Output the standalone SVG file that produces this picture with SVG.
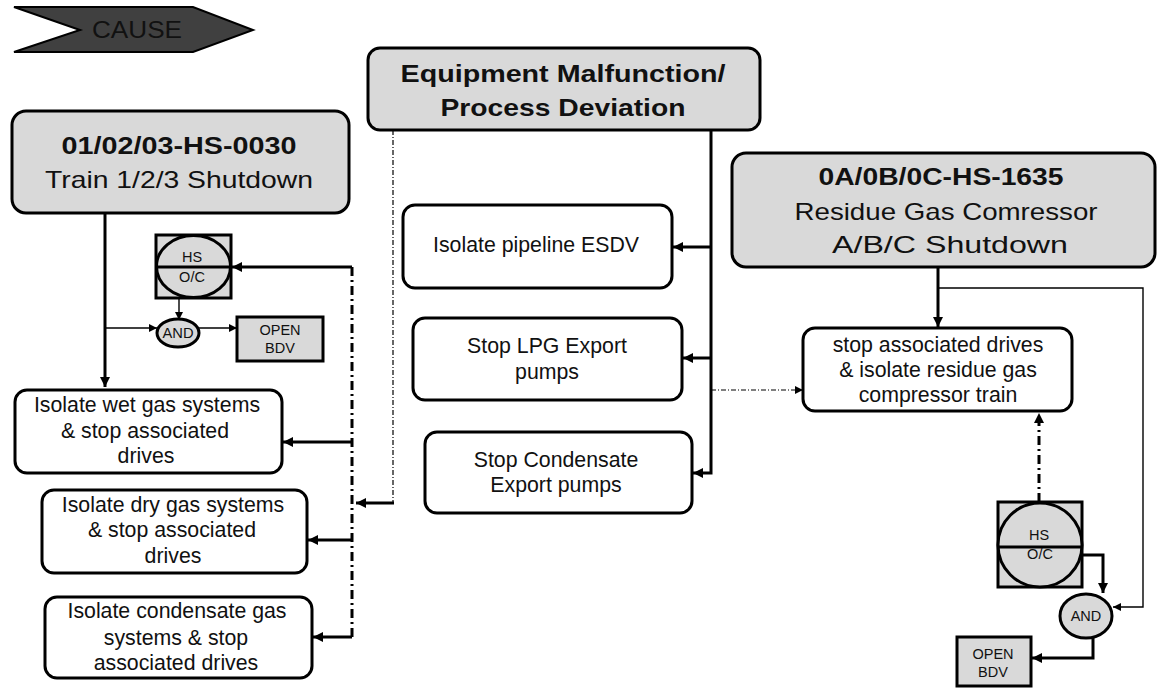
<svg xmlns="http://www.w3.org/2000/svg" width="1157" height="688" viewBox="0 0 1157 688">
<style>
text{font-family:"Liberation Sans",Arial,sans-serif;fill:#111;text-anchor:middle}
.t{font-size:24px;font-weight:bold}
.s{font-size:24px}
.b{font-size:21.3px}
.sm{font-size:14.5px}
.cause{fill:#404040;stroke:#000;stroke-width:2}
.hdr{fill:#d9d9d9;stroke:#000;stroke-width:3}
.box{fill:#fff;stroke:#000;stroke-width:3}
.gr{fill:#d9d9d9;stroke:#000;stroke-width:3}
.c{fill:none;stroke:#000}
.w3{stroke-width:3}
.w1{stroke-width:1.4}
.dd{stroke-width:3;stroke-dasharray:9 4 2 4}
.dt{stroke-width:1.2;stroke-dasharray:5 2 1 2}
</style>
<defs>
<marker id="a" viewBox="0 0 10 10" refX="10" refY="5" markerWidth="12" markerHeight="10" markerUnits="userSpaceOnUse" orient="auto"><path d="M0,0 L10,5 L0,10 z"/></marker>
<marker id="s" viewBox="0 0 10 10" refX="10" refY="5" markerWidth="10" markerHeight="8" markerUnits="userSpaceOnUse" orient="auto"><path d="M0,0 L10,5 L0,10 z"/></marker>
</defs>

<g id="cause">
<polygon class="cause" points="14,7 193,7 253,30 193,52 14,52 80,30"/>
<text x="137" y="38" style="font-size:24px;fill:#111" textLength="90" lengthAdjust="spacingAndGlyphs">CAUSE</text>
</g>

<g id="connectors">
<path class="c w3" d="M105,213 V387" marker-end="url(#a)"/>
<path class="c w1" d="M105,328 H157" marker-end="url(#s)"/>
<path class="c w1" d="M199,328 H237" marker-end="url(#s)"/>
<path class="c w1" d="M179,298 V320" marker-end="url(#s)"/>
<path class="c w3" d="M352,267 H232" marker-end="url(#a)"/>
<path class="c dd" d="M352,267 V637"/>
<path class="c w3" d="M352,442 H283" marker-end="url(#a)"/>
<path class="c w3" d="M352,540 H308" marker-end="url(#a)"/>
<path class="c w3" d="M352,637 H313" marker-end="url(#a)"/>
<path class="c dt" d="M393,130 V503"/>
<path class="c w3" d="M394,503 H356" marker-end="url(#a)"/>
<path class="c w3" d="M711,130 V473 H693" marker-end="url(#a)"/>
<path class="c w3" d="M711,247 H673" marker-end="url(#a)"/>
<path class="c w3" d="M711,358 H683" marker-end="url(#a)"/>
<path class="c dt" d="M711,390 H803" marker-end="url(#s)"/>
<path class="c w3" d="M938,267 V327" marker-end="url(#a)"/>
<path class="c w1" d="M938,288 H1143 V607 H1113" marker-end="url(#s)"/>
<path class="c dd" d="M1039,502 V413" marker-end="url(#a)"/>
<path class="c w3" d="M1082,555 H1103 V593" marker-end="url(#a)"/>
<path class="c w3" d="M1093,637 V658 H1032" marker-end="url(#a)"/>
</g>

<g id="n-hs0030">
<rect class="hdr" x="12" y="111" width="337" height="102" rx="14"/>
<text class="t" x="179" y="154" textLength="235" lengthAdjust="spacingAndGlyphs">01/02/03-HS-0030</text>
<text class="s" x="179" y="188" textLength="268" lengthAdjust="spacingAndGlyphs">Train 1/2/3 Shutdown</text>
</g>

<g id="n-equip">
<rect class="hdr" x="368" y="48" width="392" height="82" rx="12"/>
<text class="t" x="563" y="82" textLength="325" lengthAdjust="spacingAndGlyphs">Equipment Malfunction/</text>
<text class="t" x="563" y="116" textLength="245" lengthAdjust="spacingAndGlyphs">Process Deviation</text>
</g>

<g id="n-hs1635">
<rect class="hdr" x="732" y="153" width="423" height="114" rx="14"/>
<text class="t" x="941" y="185" textLength="245" lengthAdjust="spacingAndGlyphs">0A/0B/0C-HS-1635</text>
<text class="s" x="946" y="220" textLength="303" lengthAdjust="spacingAndGlyphs">Residue Gas Comressor</text>
<text class="s" x="950" y="253" textLength="236" lengthAdjust="spacingAndGlyphs">A/B/C Shutdown</text>
</g>

<g id="n-hs-left">
<rect class="gr" x="156" y="235" width="75" height="63"/>
<ellipse class="gr" cx="193.5" cy="266.5" rx="37" ry="31"/>
<line class="c w3" x1="156" y1="267" x2="231" y2="267"/>
<text class="sm" x="192" y="262">HS</text>
<text class="sm" x="192" y="282">O/C</text>
</g>

<g id="n-and-left">
<ellipse class="gr" cx="178" cy="333" rx="21" ry="14"/>
<text class="sm" x="178" y="338" textLength="31" lengthAdjust="spacingAndGlyphs">AND</text>
</g>

<g id="n-bdv-left">
<rect class="gr" x="237" y="317" width="86" height="44"/>
<text class="sm" x="280" y="335">OPEN</text>
<text class="sm" x="280" y="353">BDV</text>
</g>

<g id="n-wet">
<rect class="box" x="15" y="390" width="267" height="83" rx="12"/>
<text class="b" x="147" y="412">Isolate wet gas systems</text>
<text class="b" x="145" y="438">&amp; stop associated</text>
<text class="b" x="146" y="463">drives</text>
</g>

<g id="n-dry">
<rect class="box" x="42" y="490" width="265" height="83" rx="12"/>
<text class="b" x="173" y="512">Isolate dry gas systems</text>
<text class="b" x="172" y="537">&amp; stop associated</text>
<text class="b" x="173" y="563">drives</text>
</g>

<g id="n-cond-gas">
<rect class="box" x="45" y="597" width="267" height="81" rx="12"/>
<text class="b" x="177" y="618">Isolate condensate gas</text>
<text class="b" x="176" y="645">systems &amp; stop</text>
<text class="b" x="176" y="670">associated drives</text>
</g>

<g id="n-esdv">
<rect class="box" x="403" y="205" width="269" height="83" rx="12"/>
<text class="b" x="536" y="252">Isolate pipeline ESDV</text>
</g>

<g id="n-lpg">
<rect class="box" x="413" y="318" width="269" height="82" rx="12"/>
<text class="b" x="547" y="353">Stop LPG Export</text>
<text class="b" x="547" y="379">pumps</text>
</g>

<g id="n-cond-exp">
<rect class="box" x="425" y="432" width="267" height="81" rx="12"/>
<text class="b" x="556" y="467">Stop Condensate</text>
<text class="b" x="556" y="492">Export pumps</text>
</g>

<g id="n-stop-drives">
<rect class="box" x="803" y="328" width="269" height="83" rx="12"/>
<text class="b" x="938" y="352">stop associated drives</text>
<text class="b" x="938" y="377">&amp; isolate residue gas</text>
<text class="b" x="938" y="402">compressor train</text>
</g>

<g id="n-hs-right">
<rect class="gr" x="998" y="502" width="84" height="85"/>
<circle class="gr" cx="1040" cy="545" r="42"/>
<line class="c w3" x1="998" y1="547" x2="1082" y2="547"/>
<text class="sm" x="1039" y="540">HS</text>
<text class="sm" x="1040" y="559">O/C</text>
</g>

<g id="n-and-right">
<ellipse class="gr" cx="1086" cy="616" rx="26" ry="22"/>
<text class="sm" x="1086" y="621">AND</text>
</g>

<g id="n-bdv-right">
<rect class="gr" x="957" y="637" width="74" height="49"/>
<text class="sm" x="993" y="659">OPEN</text>
<text class="sm" x="993" y="677">BDV</text>
</g>
</svg>
